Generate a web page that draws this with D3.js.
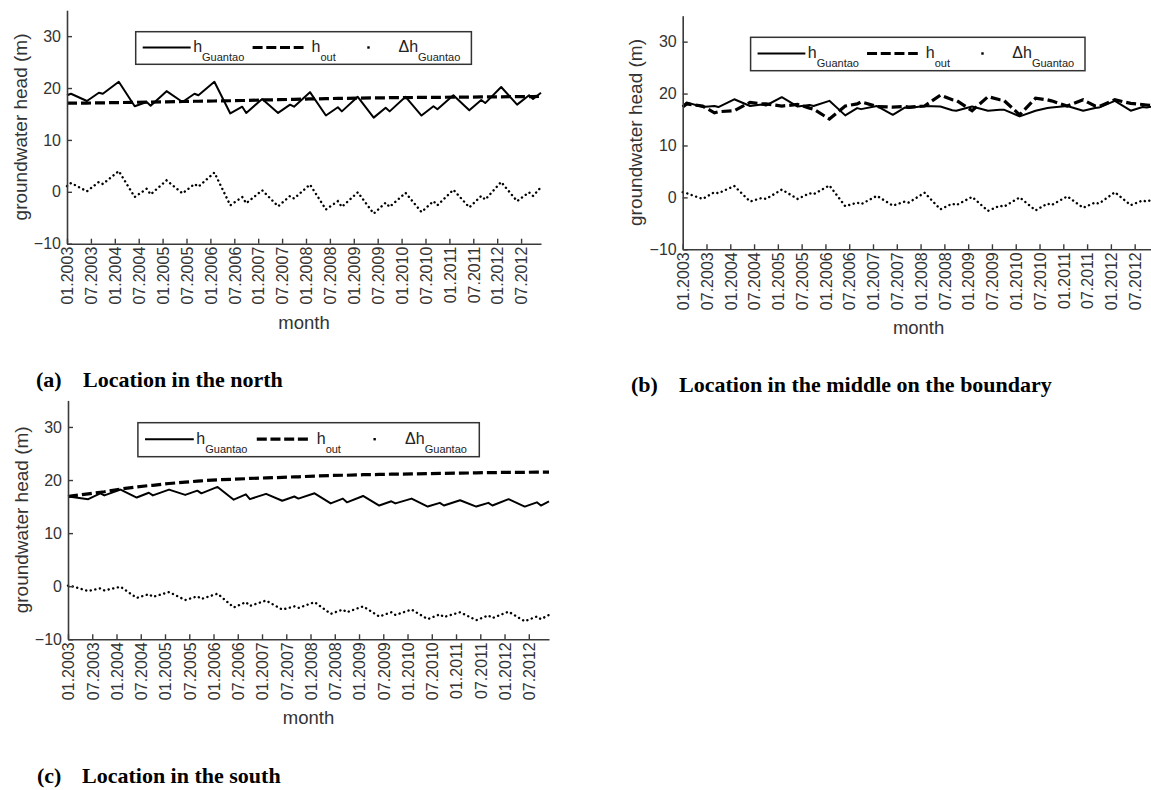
<!DOCTYPE html>
<html>
<head>
<meta charset="utf-8">
<script src="https://cdn.jsdelivr.net/npm/d3@7"></script>
<style>
  html, body { margin: 0; padding: 0; background: #fff; }
  svg { display: block; }
</style>
</head>
<body>
<svg id="chart" width="1151" height="790"></svg>
<script>
// ---------------- DATA ----------------
// month index (0 = 01.2003) of each vertex of the series
const months = [0,1,5,8,9,13,17,20,21,25,29,32,33,37,41,44,45,49,53,56,57,61,65,68,69,73,77,80,81,85,89,92,93,97,101,104,105,109,113,116,117,119];

const tickMonths = [0,6,12,18,24,30,36,42,48,54,60,66,72,78,84,90,96,102,108,114];
const tickLabels = ["01.2003","07.2003","01.2004","07.2004","01.2005","07.2005","01.2006","07.2006","01.2007","07.2007",
                    "01.2008","07.2008","01.2009","07.2009","01.2010","07.2010","01.2011","07.2011","01.2012","07.2012"];
const yTicks = [-10, 0, 10, 20, 30];
const yDomain = [-10, 35];

// (a) Location in the north
const aH     = [18.6,18.9,17.5,19.1,18.9,21.2, 16.5,17.3,16.6,19.4, 17.3,18.9,18.6,21.2, 15.1,16.4,15.2,17.9, 15.2,16.8,16.4,19.2,
                14.7,16.3,15.5,18.3, 14.3,16.2,15.5,18.3, 14.7,16.5,15.9,18.6, 15.7,17.7,17.1,20.2, 16.8,18.6,17.9,19.1];
const aOut   = [17.1,17.1,17.1,17.15,17.15,17.2, 17.25,17.3,17.3,17.35, 17.4,17.45,17.45,17.5, 17.55,17.6,17.6,17.7, 17.75,17.8,17.8,17.9,
                17.95,18.0,18.0,18.05, 18.1,18.1,18.15,18.15, 18.2,18.2,18.2,18.25, 18.25,18.3,18.3,18.3, 18.35,18.35,18.35,18.4];
const aDelta = [1.1,1.7,0.1,1.9,1.5,4.0, -1.0,0.6,-0.5,2.2, -0.3,1.5,1.0,3.7, -2.6,-1.0,-2.2,0.3, -2.8,-0.8,-1.3,1.4,
                -3.4,-1.8,-2.9,-0.1, -4.2,-2.1,-2.9,-0.2, -3.9,-1.8,-2.6,0.4, -3.0,-0.8,-1.5,1.9, -1.8,-0.1,-0.8,0.9];

// (b) Location in the middle on the boundary
const bH     = [17.5,18.3,17.4,17.6,17.4,18.9, 17.6,17.9,17.7,19.3, 17.5,17.8,17.6,18.6, 15.8,17.2,17.0,17.6, 15.9,17.3,17.2,17.6,
                17.5,16.8,16.7,17.5, 16.7,16.9,16.9,15.6, 16.7,17.2,17.3,17.6, 16.7,17.2,17.3,18.6, 16.7,17.4,17.3,17.6];
const bOut   = [17.4,18.0,17.6,16.3,16.5,16.7, 18.3,18.0,18.0,17.6, 17.9,17.2,17.0,15.1, 17.6,18.0,18.4,17.5, 17.4,17.5,17.4,17.6,
                19.7,18.8,18.7,16.7, 19.4,18.8,18.7,15.9, 19.1,18.8,18.6,17.6, 18.8,17.6,17.5,18.8, 18.1,17.9,17.8,17.6];
const bDelta = [1.0,0.8,-0.3,1.0,0.8,2.2, -0.8,-0.1,-0.3,1.5, -0.3,0.8,0.6,2.3, -1.7,-1.0,-1.3,0.3, -1.6,-0.8,-1.0,0.9,
                -2.3,-1.2,-1.5,0.1, -2.6,-1.6,-1.8,0.0, -2.5,-1.2,-1.5,0.2, -2.0,-1.0,-1.2,1.0, -1.5,-0.6,-0.8,-0.3];

// (c) Location in the south
const cH     = [16.9,16.8,16.4,17.5,17.1,18.2, 16.7,17.6,17.1,18.2, 17.2,18.0,17.5,18.7, 16.3,17.3,16.4,17.4, 16.1,16.9,16.5,17.5,
                15.6,16.5,15.8,17.0, 15.2,16.0,15.6,16.5, 15.0,15.7,15.2,16.2, 15.0,15.7,15.2,16.4, 15.0,15.8,15.2,16.0];
const cOut   = [16.9,17.0,17.4,17.7,17.8,18.3, 18.7,18.95,19.0,19.35, 19.6,19.8,19.85,20.05, 20.15,20.25,20.3,20.4, 20.5,20.6,20.6,20.75,
                20.85,20.9,20.9,21.0, 21.05,21.1,21.1,21.15, 21.2,21.25,21.25,21.3, 21.35,21.4,21.4,21.45, 21.45,21.5,21.5,21.5];
const cDelta = [0.1,0.0,-0.9,-0.4,-0.8,-0.1, -2.2,-1.5,-2.0,-1.1, -2.6,-1.9,-2.4,-1.4, -4.0,-3.0,-3.7,-2.7, -4.4,-3.8,-4.1,-3.0,
                -5.2,-4.4,-4.9,-3.8, -5.7,-4.9,-5.4,-4.4, -6.2,-5.3,-5.8,-4.9, -6.4,-5.5,-6.0,-4.8, -6.6,-5.7,-6.2,-5.4];

const captionTags  = ["(a)", "(b)", "(c)"];
const captionTexts = ["Location in the north", "Location in the middle on the boundary", "Location in the south"];
const yAxisTitle = "groundwater head (m)";
const xAxisTitle = "month";

// ---------------- LAYOUT ----------------
const panels = [
  { h: aH, out: aOut, d: aDelta, x0: 67,    x1: 541,    yTop: 10.2,  yBot: 243.7,
    leg: {x: 135.7, y: 31.7, w: 335.7, h: 32.6}, cap: {tx: 36, lx: 83, y: 387} },
  { h: bH, out: bOut, d: bDelta, x0: 682.7, x1: 1154.5, yTop: 15.7,  yBot: 249.3,
    leg: {x: 750.6, y: 37.3, w: 334.4, h: 33.4}, cap: {tx: 631, lx: 679, y: 392} },
  { h: cH, out: cOut, d: cDelta, x0: 68,    x1: 549,    yTop: 400.4, yBot: 639.3,
    leg: {x: 137.9, y: 422.7, w: 341.4, h: 34}, cap: {tx: 37, lx: 82, y: 783} }
];

const sans = "'Liberation Sans', Arial, Helvetica, sans-serif";
const serif = "'Liberation Serif', 'Times New Roman', serif";
const axisColor = "#3a3a3a";
const svg = d3.select("#chart");
svg.append("rect").attr("width", 1151).attr("height", 790).attr("fill", "#fff");

panels.forEach((p, pi) => {
  const x = d3.scaleLinear().domain([0, 119]).range([p.x0, p.x1]);
  const y = d3.scaleLinear().domain(yDomain).range([p.yBot, p.yTop]);
  const g = svg.append("g");

  // series
  const line = d3.line().x(d => x(d[0])).y(d => y(d[1]));
  const pts = arr => months.map((m, i) => [m, arr[i]]);

  g.append("path").attr("d", line(pts(p.d)))
    .attr("fill", "none").attr("stroke", "#000").attr("stroke-width", 2.4)
    .attr("stroke-linecap", "round").attr("stroke-dasharray", "0.1,4.6");
  g.append("path").attr("d", line(pts(p.h)))
    .attr("fill", "none").attr("stroke", "#000").attr("stroke-width", 2)
    .attr("stroke-linejoin", "round");
  g.append("path").attr("d", line(pts(p.out)))
    .attr("fill", "none").attr("stroke", "#000").attr("stroke-width", 3.2)
    .attr("stroke-dasharray", "10,4");

  // axes
  const yAxis = d3.axisLeft(y).tickValues(yTicks).tickSizeInner(-5).tickSizeOuter(0).tickPadding(6);
  const gy = g.append("g").attr("transform", `translate(${p.x0},0)`).call(yAxis);
  const xAxis = d3.axisBottom(x).tickValues(tickMonths)
    .tickFormat((d, i) => tickLabels[i]).tickSizeInner(-5).tickSizeOuter(0).tickPadding(3);
  const gx = g.append("g").attr("transform", `translate(0,${p.yBot})`).call(xAxis);
  gx.selectAll("text")
    .attr("transform", "rotate(-90)").attr("x", -3).attr("y", 0).attr("dy", "0.36em")
    .style("text-anchor", "end");
  [gx, gy].forEach(a => {
    a.select(".domain").attr("stroke", axisColor).attr("stroke-width", 1.6);
    a.selectAll(".tick line").attr("stroke", axisColor).attr("stroke-width", 1.4);
    a.selectAll("text").attr("font-family", sans).attr("font-size", 16).attr("fill", "#333");
  });

  // axis titles
  g.append("text").text(yAxisTitle)
    .attr("transform", `translate(${p.x0 - 47},${(p.yTop + p.yBot) / 2}) rotate(-90)`)
    .attr("text-anchor", "middle").attr("dy", "0.35em")
    .attr("font-family", sans).attr("font-size", 19).attr("fill", "#333");
  g.append("text").text(xAxisTitle)
    .attr("x", (p.x0 + p.x1) / 2).attr("y", p.yBot + 85)
    .attr("text-anchor", "middle")
    .attr("font-family", sans).attr("font-size", 18.5).attr("fill", "#333");

  // legend
  const L = p.leg, k = L.w / 336;
  const lg = g.append("g").attr("transform", `translate(${L.x},${L.y})`);
  lg.append("rect").attr("width", L.w).attr("height", L.h)
    .attr("fill", "#fff").attr("stroke", "#333").attr("stroke-width", 1.5);
  const ly = L.h / 2 - 0.5;
  lg.append("line").attr("x1", 7 * k).attr("x2", 55 * k).attr("y1", ly).attr("y2", ly)
    .attr("stroke", "#000").attr("stroke-width", 2);
  lg.append("line").attr("x1", 117 * k).attr("x2", 168 * k).attr("y1", ly).attr("y2", ly)
    .attr("stroke", "#000").attr("stroke-width", 3.2).attr("stroke-dasharray", "10,3.7");
  lg.append("rect").attr("x", 233 * k - 1.2).attr("y", ly - 1.2).attr("width", 2.4).attr("height", 2.4).attr("fill", "#000");
  const labels = [
    {x: 57.5 * k, main: "h", sub: "Guantao"},
    {x: 176 * k, main: "h", sub: "out"},
    {x: 263 * k, main: "\u0394h", sub: "Guantao"}
  ];
  labels.forEach(l => {
    const t = lg.append("text").attr("x", l.x).attr("y", ly + 5)
      .attr("font-family", sans).attr("font-size", 16).attr("fill", "#222");
    t.append("tspan").text(l.main);
    t.append("tspan").text(l.sub).attr("font-size", 11).attr("dy", 8.5);
  });

  // caption
  svg.append("text").text(captionTags[pi]).attr("x", p.cap.tx).attr("y", p.cap.y)
    .attr("font-family", serif).attr("font-weight", "bold")
    .attr("font-size", 22).attr("fill", "#000");
  svg.append("text").text(captionTexts[pi]).attr("x", p.cap.lx).attr("y", p.cap.y)
    .attr("font-family", serif).attr("font-weight", "bold")
    .attr("font-size", 22).attr("fill", "#000");
});
</script>
</body>
</html>
